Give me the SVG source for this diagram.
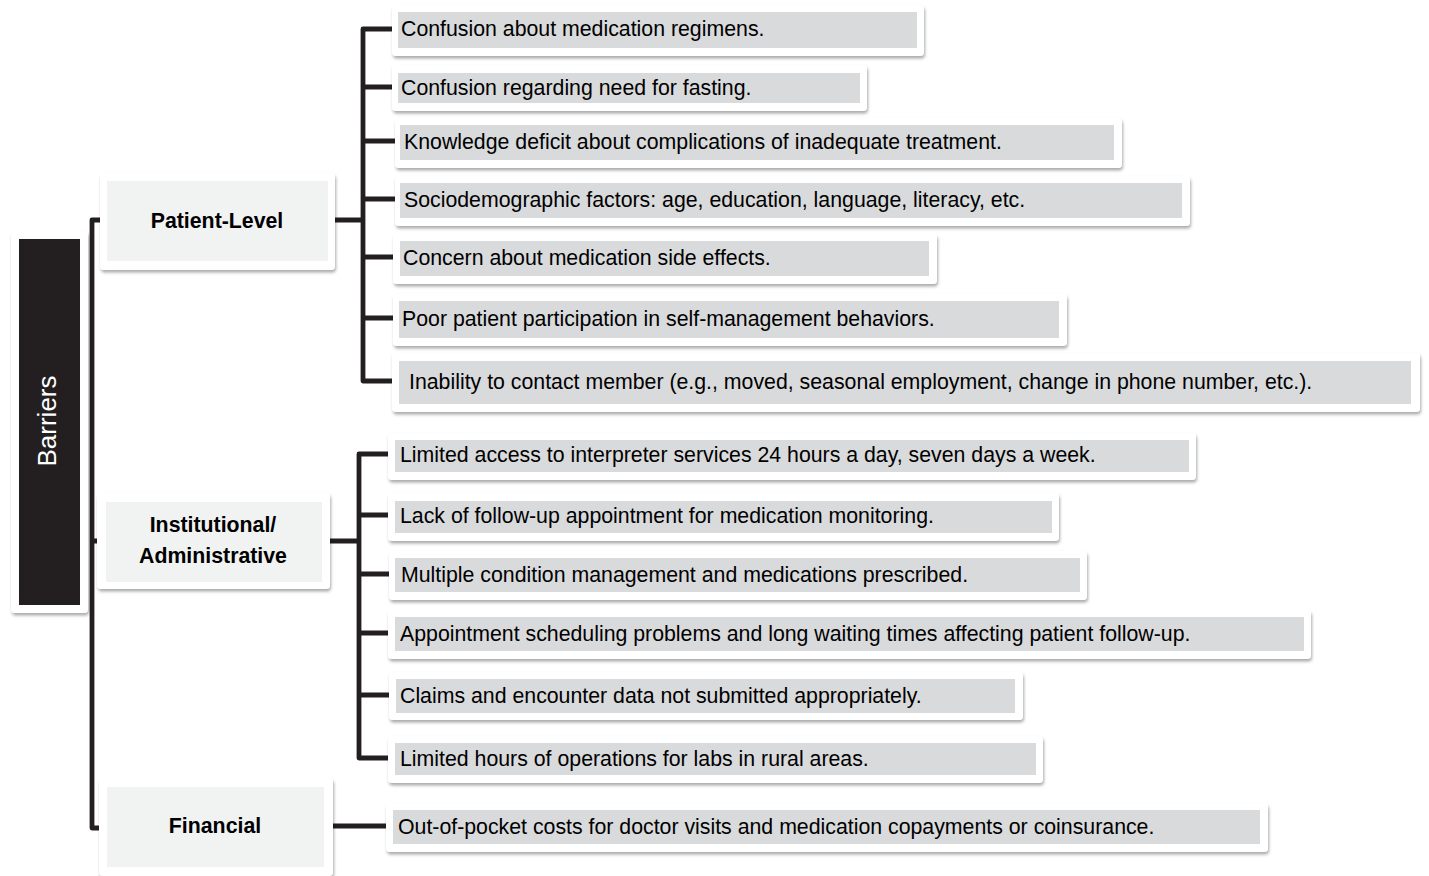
<svg xmlns="http://www.w3.org/2000/svg" width="1429" height="876" viewBox="0 0 1429 876">
<defs>
<filter id="sh" x="-5%" y="-20%" width="110%" height="150%">
<feDropShadow dx="1" dy="2.5" stdDeviation="1.6" flood-color="#000" flood-opacity="0.33"/>
</filter>
<style>
.card{fill:#fff;filter:url(#sh)}
.lf{fill:#d9dadb}
.mid{fill:#f1f2f2}
.t{font-family:"Liberation Sans",Arial,sans-serif;font-size:21.3px;fill:#000}
.b{font-family:"Liberation Sans",Arial,sans-serif;font-size:21.3px;font-weight:bold;fill:#000;text-anchor:middle}
.c{fill:none;stroke:#231f20;stroke-width:4.8;stroke-linejoin:round;stroke-linecap:butt}
</style>
</defs>
<rect width="1429" height="876" fill="#fff"/>
<g id="connectors">
<path class="c" d="M100 220H92V828H100M92 541H98"/>
<path class="c" d="M335 220H363M392 29H363V381H393M363 87H392M363 141H395M363 199H395M363 257H393M363 318H393"/>
<path class="c" d="M330 541H359M388 454H359V758H388M359 515H388M359 574H389M359 633H388M359 695H389"/>
<path class="c" d="M333 826H387"/>
</g>
<g id="barriers">
<rect class="card" x="11" y="231" width="77" height="382" rx="4"/>
<rect x="19" y="239" width="61" height="366" fill="#231f20"/>
<text transform="translate(56 421) rotate(-90)" text-anchor="middle" font-family="Liberation Sans, Arial, sans-serif" font-size="26" fill="#fff">Barriers</text>
</g>
<g id="patient-level">
<rect class="card" x="100" y="173" width="235" height="97" rx="4"/>
<rect class="mid" x="107" y="181" width="221" height="80"/>
<text class="b" x="217" y="228">Patient-Level</text>
</g>
<g id="institutional">
<rect class="card" x="97" y="493" width="233" height="96" rx="4"/>
<rect class="mid" x="106" y="502" width="216" height="80"/>
<text class="b" x="213" y="532">Institutional/</text>
<text class="b" x="213" y="563">Administrative</text>
</g>
<g id="financial">
<rect class="card" x="99" y="778" width="234" height="98" rx="4"/>
<rect class="mid" x="107" y="787" width="217" height="80"/>
<text class="b" x="215" y="833">Financial</text>
</g>
<g id="p1"><rect class="card" x="392" y="5" width="532" height="51" rx="4"/><rect class="lf" x="398" y="12" width="519" height="36"/><text class="t" x="401" y="36">Confusion about medication regimens.</text></g>
<g id="p2"><rect class="card" x="392" y="65" width="475" height="46" rx="4"/><rect class="lf" x="398" y="73" width="462" height="30"/><text class="t" x="401" y="95">Confusion regarding need for fasting.</text></g>
<g id="p3"><rect class="card" x="395" y="118" width="727" height="50" rx="4"/><rect class="lf" x="400" y="125" width="714" height="35"/><text class="t" x="404" y="149">Knowledge deficit about complications of inadequate treatment.</text></g>
<g id="p4"><rect class="card" x="395" y="176" width="795" height="50" rx="4"/><rect class="lf" x="400" y="183" width="782" height="35"/><text class="t" x="404" y="207">Sociodemographic factors: age, education, language, literacy, etc.</text></g>
<g id="p5"><rect class="card" x="393" y="234" width="544" height="50" rx="4"/><rect class="lf" x="400" y="241" width="529" height="35"/><text class="t" x="403" y="265">Concern about medication side effects.</text></g>
<g id="p6"><rect class="card" x="393" y="294" width="674" height="52" rx="4"/><rect class="lf" x="399" y="301" width="660" height="37"/><text class="t" x="402" y="326">Poor patient participation in self-management behaviors.</text></g>
<g id="p7"><rect class="card" x="392" y="353" width="1028" height="59" rx="4"/><rect class="lf" x="399" y="361" width="1012" height="43"/><text class="t" x="409" y="389">Inability to contact member (e.g., moved, seasonal employment, change in phone number, etc.).</text></g>
<g id="i1"><rect class="card" x="388" y="433" width="808" height="47" rx="4"/><rect class="lf" x="395" y="440" width="794" height="32"/><text class="t" x="400" y="462">Limited access to interpreter services 24 hours a day, seven days a week.</text></g>
<g id="i2"><rect class="card" x="388" y="493" width="671" height="48" rx="4"/><rect class="lf" x="395" y="501" width="657" height="32"/><text class="t" x="400" y="523">Lack of follow-up appointment for medication monitoring.</text></g>
<g id="i3"><rect class="card" x="389" y="551" width="698" height="49" rx="4"/><rect class="lf" x="395" y="558" width="685" height="34"/><text class="t" x="401" y="582">Multiple condition management and medications prescribed.</text></g>
<g id="i4"><rect class="card" x="388" y="610" width="923" height="49" rx="4"/><rect class="lf" x="395" y="617" width="909" height="34"/><text class="t" x="400" y="641">Appointment scheduling problems and long waiting times affecting patient follow-up.</text></g>
<g id="i5"><rect class="card" x="389" y="672" width="634" height="48" rx="4"/><rect class="lf" x="396" y="679" width="619" height="34"/><text class="t" x="400" y="703">Claims and encounter data not submitted appropriately.</text></g>
<g id="i6"><rect class="card" x="388" y="736" width="655" height="47" rx="4"/><rect class="lf" x="395" y="743" width="641" height="32"/><text class="t" x="400" y="766">Limited hours of operations for labs in rural areas.</text></g>
<g id="f1"><rect class="card" x="386" y="803" width="882" height="49" rx="4"/><rect class="lf" x="393" y="810" width="867" height="34"/><text class="t" x="398" y="834">Out-of-pocket costs for doctor visits and medication copayments or coinsurance.</text></g>
</svg>
